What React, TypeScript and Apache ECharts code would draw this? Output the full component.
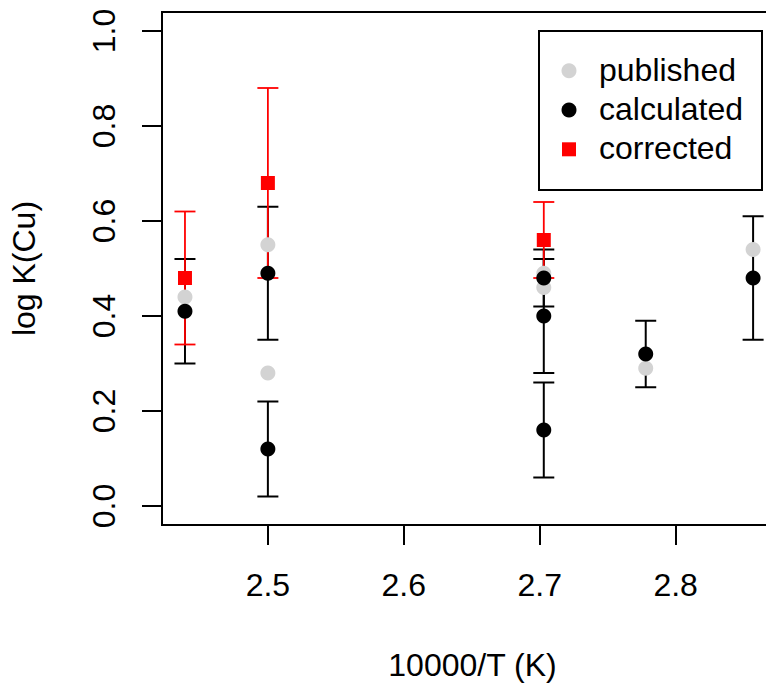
import React, { useEffect, useRef } from "react";
import * as echarts from "echarts";

// 10000/T positions and log K(Cu) values
const publishedX = [2.439, 2.5, 2.5, 2.703, 2.703, 2.778, 2.857];
const publishedY = [0.44, 0.55, 0.28, 0.49, 0.46, 0.29, 0.54];

const calculatedX = [2.439, 2.5, 2.5, 2.703, 2.703, 2.703, 2.778, 2.857];
const calculatedY = [0.41, 0.49, 0.12, 0.48, 0.4, 0.16, 0.32, 0.48];
const calculatedErr = [0.11, 0.14, 0.1, 0.06, 0.12, 0.1, 0.07, 0.13];

const correctedX = [2.439, 2.5, 2.703];
const correctedY = [0.48, 0.68, 0.56];
const correctedErr = [0.14, 0.2, 0.08];

const xTicks = [2.5, 2.6, 2.7, 2.8];
const yTicks = [0, 0.2, 0.4, 0.6, 0.8, 1.0];

const legendNames = ["published", "calculated", "corrected"];

const FONT = "'Liberation Sans', Arial, Helvetica, sans-serif";
const GRAY = "#d3d3d3";
const RED = "#ff0000";

function errorBarSeries(xs: number[], ys: number[], errs: number[], color: string, width: number) {
  return {
    type: "custom",
    silent: true,
    clip: false,
    encode: { x: 0, y: [1, 2] },
    data: xs.map((x, i) => [x, ys[i] - errs[i], ys[i] + errs[i]]),
    renderItem: (params: any, api: any) => {
      const x = api.value(0);
      const lo = api.coord([x, api.value(1)]);
      const hi = api.coord([x, api.value(2)]);
      const hw = 10.5;
      const style = { stroke: color, lineWidth: width };
      return {
        type: "group",
        children: [
          { type: "line", shape: { x1: lo[0], y1: lo[1], x2: hi[0], y2: hi[1] }, style },
          { type: "line", shape: { x1: lo[0] - hw, y1: lo[1], x2: lo[0] + hw, y2: lo[1] }, style },
          { type: "line", shape: { x1: hi[0] - hw, y1: hi[1], x2: hi[0] + hw, y2: hi[1] }, style },
        ],
      };
    },
  };
}

export default function App() {
  const ref = useRef<HTMLDivElement>(null);

  useEffect(() => {
    if (!ref.current) return;
    const chart = echarts.init(ref.current, null, { renderer: "svg" });

    const legendLeft = 539;
    const legendTop = 31;
    const rowY = [70.7, 110, 149.3];
    const symX = 569;

    chart.setOption({
      animation: false,
      backgroundColor: "#ffffff",
      textStyle: { fontFamily: FONT },
      grid: {
        left: 162,
        top: 12,
        right: 17,
        bottom: 160,
        show: true,
        borderColor: "#000",
        borderWidth: 2,
        backgroundColor: "transparent",
      },
      xAxis: {
        type: "value",
        min: 2.4221,
        max: 2.879,
        name: "10000/T (K)",
        nameLocation: "middle",
        nameGap: 124,
        nameTextStyle: { fontSize: 32, color: "#000", fontFamily: FONT },
        axisLine: { show: true, onZero: false, lineStyle: { color: "#000", width: 2 } },
        axisTick: { show: true, length: 20, inside: false, lineStyle: { color: "#000", width: 2 }, customValues: xTicks },
        axisLabel: {
          show: true,
          margin: 44,
          fontSize: 32,
          color: "#000",
          fontFamily: FONT,
          customValues: xTicks,
          formatter: (v: number) => v.toFixed(1),
        },
        splitLine: { show: false },
      },
      yAxis: {
        type: "value",
        min: -0.04,
        max: 1.04,
        name: "log K(Cu)",
        nameLocation: "middle",
        nameGap: 122,
        nameTextStyle: { fontSize: 32, color: "#000", fontFamily: FONT },
        axisLine: { show: true, onZero: false, lineStyle: { color: "#000", width: 2 } },
        axisTick: { show: true, length: 20, inside: false, lineStyle: { color: "#000", width: 2 }, customValues: yTicks },
        axisLabel: {
          show: true,
          margin: 42,
          rotate: 90,
          fontSize: 32,
          color: "#000",
          fontFamily: FONT,
          customValues: yTicks,
          formatter: (v: number) => v.toFixed(1),
        },
        splitLine: { show: false },
      },
      series: [
        {
          name: legendNames[0],
          type: "scatter",
          symbol: "circle",
          symbolSize: 15,
          itemStyle: { color: GRAY, opacity: 1 },
          data: publishedX.map((x, i) => [x, publishedY[i]]),
        },
        {
          name: legendNames[1],
          type: "scatter",
          symbol: "circle",
          symbolSize: 15,
          itemStyle: { color: "#000", opacity: 1 },
          data: calculatedX.map((x, i) => [x, calculatedY[i]]),
        },
        errorBarSeries(calculatedX, calculatedY, calculatedErr, "#000", 2),
        {
          name: legendNames[2],
          type: "scatter",
          symbol: "rect",
          symbolSize: 14,
          itemStyle: { color: RED, opacity: 1 },
          data: correctedX.map((x, i) => [x, correctedY[i]]),
        },
        errorBarSeries(correctedX, correctedY, correctedErr, RED, 1.8),
      ],
      graphic: [
        {
          type: "rect",
          shape: { x: legendLeft, y: legendTop, width: 223, height: 159 },
          style: { fill: "#fff", stroke: "#000", lineWidth: 2 },
          z: 10,
        },
        { type: "circle", shape: { cx: symX, cy: rowY[0], r: 7.5 }, style: { fill: GRAY }, z: 11 },
        { type: "circle", shape: { cx: symX, cy: rowY[1], r: 7.5 }, style: { fill: "#000" }, z: 11 },
        { type: "rect", shape: { x: symX - 7, y: rowY[2] - 7, width: 14, height: 14 }, style: { fill: RED }, z: 11 },
        ...legendNames.map((name, i) => ({
          type: "text",
          x: 599,
          y: rowY[i] - 1,
          z: 11,
          style: {
            text: name,
            fontSize: 32,
            fontFamily: FONT,
            fill: "#000",
            verticalAlign: "middle",
            align: "left",
          },
        })),
      ],
    });

    return () => chart.dispose();
  }, []);

  return (
    <div
      ref={ref}
      style={{ position: "fixed", left: 0, top: 0, width: 800, height: 686, background: "#fff" }}
    />
  );
}
